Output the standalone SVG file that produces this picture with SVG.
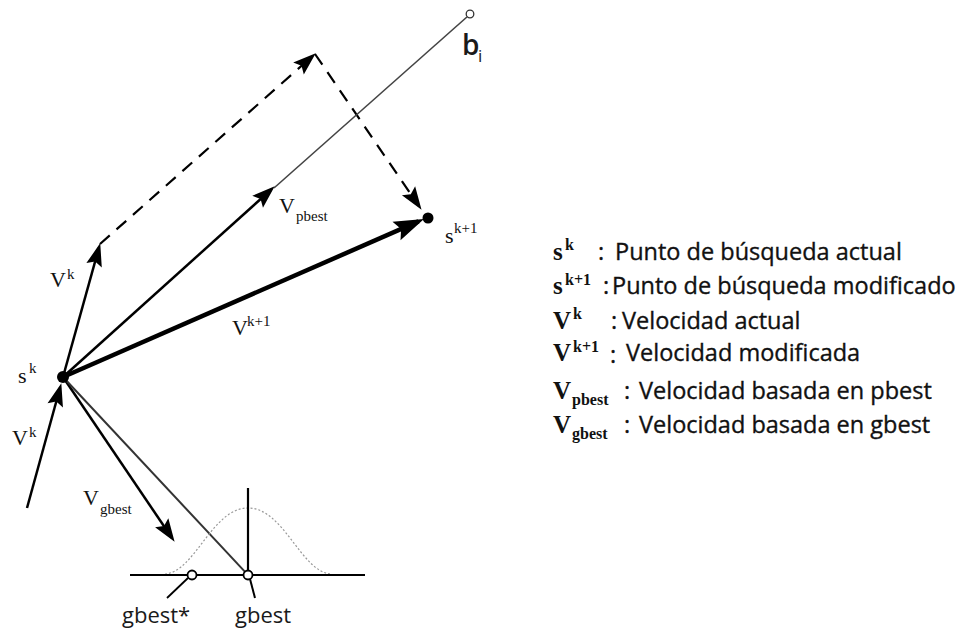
<svg xmlns="http://www.w3.org/2000/svg" width="973" height="633" viewBox="0 0 973 633">
<defs>
<marker id="ah" markerUnits="userSpaceOnUse" markerWidth="26" markerHeight="18" refX="18" refY="8" orient="auto" overflow="visible">
<path d="M0,0 L23,8 L0,16 L4,8 z" fill="#000"/>
</marker>
<marker id="ahb" markerUnits="userSpaceOnUse" markerWidth="32" markerHeight="22" refX="24" refY="10" orient="auto" overflow="visible">
<path d="M0,0 L30,10 L0,20 L5,10 z" fill="#000"/>
</marker>
</defs>
<style>
.vec{fill:none;stroke:#000;stroke-width:2.5}
.thick{fill:none;stroke:#000;stroke-width:4.5}
.dash{fill:none;stroke:#000;stroke-width:2.2;stroke-dasharray:13 9}
.thin{fill:none;stroke:#444;stroke-width:1.6}
.axis{fill:none;stroke:#000;stroke-width:2.2}
.gauss{fill:none;stroke:#999;stroke-width:1.2;stroke-dasharray:2 2}
.ser{font-family:"Liberation Serif","DejaVu Serif",serif;font-size:22px;fill:#111}
.sm{font-family:"Liberation Serif","DejaVu Serif",serif;font-size:15px;fill:#111}
.lser{font-family:"Liberation Serif","DejaVu Serif",serif;font-size:25px;fill:#111;font-weight:bold}
.lsm{font-family:"Liberation Serif","DejaVu Serif",serif;font-size:16px;fill:#111;font-weight:bold}
.sans{font-family:"Open Sans","Liberation Sans",sans-serif;font-size:23.5px;fill:#111;stroke:#111;stroke-width:0.35}
.gl{font-family:"Open Sans","Liberation Sans",sans-serif;font-size:22px;fill:#1a1a1a}
</style>
<g id="connectors">
<path class="vec" d="M27,508 L60,388" marker-end="url(#ah)"/>
<path class="vec" d="M63,377 L98.9,247.9" marker-end="url(#ah)"/>
<path class="dash" d="M100,244 L312,56.6" marker-end="url(#ah)"/>
<path class="dash" d="M315,54 L418.7,205.7" marker-end="url(#ah)"/>
<path class="vec" d="M63,377 L271,189.7" marker-end="url(#ah)"/>
<path class="thin" d="M274,188 L466.9,17"/>
<path class="thick" d="M63,377 L418.5,221.4" marker-end="url(#ahb)"/>
<path class="vec" d="M63,377 L171.8,537.7" marker-end="url(#ah)"/>
<path class="thin" d="M63,377 L245.3,572.1" style="stroke-width:2;stroke:#333"/>
</g>
<g id="axis">
<path class="gauss" d="M165,574 C195,572 212,508 248,508 C284,508 301,572 331,574"/>
<path class="axis" d="M130,575 L365,575"/>
<path class="axis" d="M248,488 L248,571"/>
<path class="axis" d="M250,579 L255,598" style="stroke-width:2"/>
<path class="axis" d="M188,578 L167,598" style="stroke-width:1.8"/>
</g>
<g id="sk">
<circle cx="63" cy="377" r="6" fill="#000"/>
<text class="ser" x="18" y="383">s</text><text class="sm" x="29" y="373">k</text>
</g>
<g id="sk1">
<circle cx="428" cy="218" r="5.5" fill="#000"/>
<text class="ser" x="445" y="243">s</text><text class="sm" x="454" y="233">k+1</text>
</g>
<g id="bi">
<circle cx="470" cy="14" r="3.8" fill="#fff" stroke="#333" stroke-width="1.3"/>
<text class="gl" x="462" y="55" style="font-size:28px;font-weight:600">b</text><text class="gl" x="478" y="62" style="font-size:17px">i</text>
</g>
<g id="gbest">
<circle cx="248" cy="575" r="4.5" fill="#fff" stroke="#000" stroke-width="1.8"/>
<text class="gl" x="235" y="623">gbest</text>
</g>
<g id="gbest-star">
<circle cx="192" cy="575" r="4.5" fill="#fff" stroke="#000" stroke-width="1.8"/>
<text class="gl" x="122" y="623">gbest*</text>
</g>
<g id="labels">
<text class="ser" x="50" y="287">V</text><text class="sm" x="67" y="279">k</text>
<text class="ser" x="12" y="445">V</text><text class="sm" x="29" y="437">k</text>
<text class="ser" x="232" y="335">V</text><text class="sm" x="247" y="326">k+1</text>
<text class="ser" x="279" y="213">V</text><text class="sm" x="296" y="221">pbest</text>
<text class="ser" x="83" y="505">V</text><text class="sm" x="100" y="514">gbest</text>
</g>
<g id="legend">
<text class="lser" x="553" y="260">s</text><text class="lsm" x="565" y="250">k</text>
<text class="sans" x="598" y="260">:</text><text class="sans" x="615" y="260">Punto de búsqueda actual</text>
<text class="lser" x="553" y="294">s</text><text class="lsm" x="565" y="285">k+1</text>
<text class="sans" x="603" y="294">:</text><text class="sans" x="612" y="294">Punto de búsqueda modificado</text>
<text class="lser" x="553" y="329">V</text><text class="lsm" x="573" y="319">k</text>
<text class="sans" x="611" y="329">:</text><text class="sans" x="622" y="329">Velocidad actual</text>
<text class="lser" x="553" y="361">V</text><text class="lsm" x="573" y="352">k+1</text>
<text class="sans" x="610" y="363">:</text><text class="sans" x="626" y="361">Velocidad modificada</text>
<text class="lser" x="553" y="399">V</text><text class="lsm" x="572" y="405">pbest</text>
<text class="sans" x="624" y="399">:</text><text class="sans" x="639" y="399">Velocidad basada en pbest</text>
<text class="lser" x="553" y="433">V</text><text class="lsm" x="572" y="439">gbest</text>
<text class="sans" x="624" y="433">:</text><text class="sans" x="639" y="433">Velocidad basada en gbest</text>
</g>
</svg>
